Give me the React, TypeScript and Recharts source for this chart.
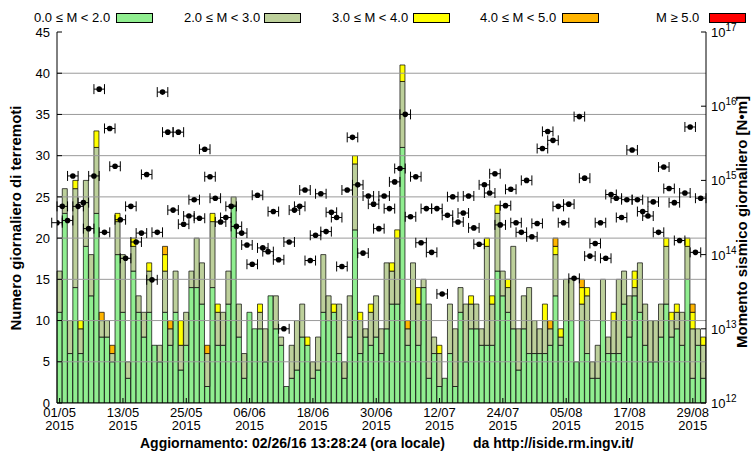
import React from "react"
import {
  ComposedChart,
  Bar,
  Scatter,
  ErrorBar,
  XAxis,
  YAxis,
  ReferenceLine,
} from "recharts"

// Daily counts per magnitude class, 01/05/2015 .. 31/08/2015
const m0to2 = [
  11, 23, 6, 14, 6, 19, 13, 23, 8, 8, 5, 18, 11, 3, 16, 11, 8, 11, 7, 5,
  11, 7, 11, 4, 7, 14, 14, 12, 2, 14, 7, 7, 12, 24, 8, 3, 11, 9, 9, 5,
  13, 9, 7, 2, 3, 4, 8, 7, 3, 4, 11, 10, 11, 6, 3, 8, 21, 6, 8, 7,
  8, 6, 9, 12, 12, 31, 7, 10, 7, 14, 3, 6, 2, 3, 6, 2, 11, 5, 9, 9,
  7, 7, 7, 16, 13, 11, 9, 4, 9, 6, 6, 6, 6, 7, 13, 7, 10, 10, 5, 10,
  6, 3, 3, 10, 6, 6, 6, 12, 8, 13, 11, 7, 5, 5, 8, 12, 8, 9, 7, 15,
  3, 7, 3,
]
const m2to3 = [
  5, 3, 4, 12, 3, 8, 5, 8, 2, 2, 1, 4, 7, 2, 3, 2, 3, 5, 0, 2,
  5, 2, 5, 3, 4, 2, 6, 5, 4, 8, 4, 4, 4, 1, 4, 3, 0, 0, 2, 4,
  0, 4, 1, 0, 4, 6, 4, 0, 2, 4, 7, 3, 0, 6, 2, 5, 8, 4, 1, 4,
  5, 3, 8, 4, 8, 8, 2, 7, 5, 1, 9, 2, 4, 0, 6, 7, 3, 7, 3, 3,
  2, 12, 5, 7, 3, 3, 10, 5, 4, 8, 4, 3, 4, 2, 5, 1, 5, 5, 0, 2,
  7, 2, 4, 5, 2, 4, 9, 4, 5, 1, 6, 5, 5, 5, 4, 7, 2, 2, 4, 4,
  6, 2, 4,
]
const m3to4 = [
  0, 0, 0, 1, 1, 0, 0, 2, 0, 0, 0, 1, 0, 0, 1, 0, 0, 1, 0, 0,
  2, 0, 0, 3, 0, 0, 0, 0, 0, 1, 1, 0, 0, 0, 0, 0, 0, 0, 1, 0,
  0, 0, 0, 0, 0, 0, 0, 1, 0, 0, 0, 0, 1, 0, 0, 0, 1, 1, 0, 1,
  0, 0, 0, 1, 1, 2, 0, 0, 2, 0, 0, 0, 1, 0, 0, 0, 0, 0, 1, 0,
  0, 1, 1, 1, 0, 1, 0, 0, 0, 0, 0, 0, 2, 0, 1, 1, 0, 0, 0, 2,
  1, 0, 0, 0, 0, 1, 0, 0, 0, 2, 0, 0, 0, 0, 0, 1, 1, 1, 0, 1,
  2, 0, 1,
]
const m4to5 = [
  0, 0, 0, 0, 0, 0, 0, 0, 1, 0, 1, 0, 0, 0, 0, 0, 0, 0, 0, 0,
  1, 1, 0, 0, 0, 0, 0, 0, 1, 0, 0, 0, 0, 0, 0, 0, 0, 0, 0, 0,
  0, 0, 0, 0, 0, 0, 0, 0, 0, 0, 0, 0, 0, 0, 0, 0, 0, 0, 0, 0,
  0, 0, 0, 0, 0, 0, 1, 0, 0, 0, 0, 0, 0, 0, 0, 0, 0, 0, 0, 0,
  0, 0, 0, 0, 0, 0, 0, 0, 0, 0, 0, 0, 0, 1, 1, 0, 0, 0, 0, 1,
  0, 0, 0, 0, 0, 0, 0, 0, 0, 0, 0, 0, 0, 0, 0, 0, 0, 0, 0, 0,
  1, 0, 0,
]
const m5plus = m0to2.map(() => 0)

// daily seismic moment, log10 of N·m
const momentExp = [
  14.43, 14.65, 14.46, 15.06, 14.65, 14.7, 14.35, 15.06, 16.23, 14.3,
  15.7, 15.19, 14.47, 13.95, 14.65, 14.17, 14.29, 15.08, 13.66, 14.3,
  16.19, 15.65, 14.6, 15.65, 14.41, 14.52, 14.74, 14.49, 15.42, 15.05,
  14.76, 14.44, 14.5, 14.65, 14.38, 14.29, 14.13, 13.87, 14.8, 14.09,
  14.04, 14.58, 13.93, 13.0, 14.17, 14.6, 14.65, 14.87, 13.92, 14.26,
  14.82, 14.31, 14.57, 14.5, 13.84, 14.87, 15.58, 14.94, 14.02, 14.79,
  14.68, 14.35, 14.79, 14.62, 14.98, 15.16, 15.89, 14.51, 15.05, 14.16,
  14.62, 14.03, 14.62, 13.47, 14.53, 14.78, 14.44, 14.56, 14.79, 14.36,
  14.14, 14.94, 14.83, 15.09, 14.4, 14.66, 14.88, 14.43, 14.3, 15.0,
  14.24, 14.42, 15.43, 15.66, 15.54, 14.65, 14.43, 14.68, 13.68, 15.86,
  15.03, 13.98, 14.15, 14.43, 13.95, 14.81, 14.76, 14.5, 14.74, 15.41,
  14.74, 14.58, 14.52, 14.71, 14.3, 15.18, 14.89, 14.7, 14.19, 14.83,
  15.72, 14.03, 14.76,
]

const year = "2015"
const tickDates = [
  "01/05", "13/05", "25/05", "06/06", "18/06", "30/06",
  "12/07", "24/07", "05/08", "17/08", "29/08",
]
const countTicks = [0, 5, 10, 15, 20, 25, 30, 35, 40, 45]
const gridValues = [5, 10, 15, 20, 25, 30, 35, 40]
const expTicks = [12, 13, 14, 15, 16, 17]

const classes = [
  { key: "c0", label: "0.0 ≤ M < 2.0", color: "#90ee90", values: m0to2 },
  { key: "c2", label: "2.0 ≤ M < 3.0", color: "#bdd09b", values: m2to3 },
  { key: "c3", label: "3.0 ≤ M < 4.0", color: "#ffff00", values: m3to4 },
  { key: "c4", label: "4.0 ≤ M < 5.0", color: "#ffb400", values: m4to5 },
  { key: "c5", label: "M ≥ 5.0", color: "#ff0000", values: m5plus },
]

const pad = (n: number) => String(n).padStart(2, "0")
const rows = m0to2.map((_, i) => {
  const d = new Date(2015, 4, 1 + i)
  const row: Record<string, number | string> = {
    day: `${pad(d.getDate())}/${pad(d.getMonth() + 1)}`,
    x: i,
    m: momentExp[i],
    err: 1,
  }
  classes.forEach((c) => (row[c.key] = c.values[i]))
  return row
})

const minorCount = Array.from({ length: 46 }, (_, i) => i)
const minorExp = expTicks
  .slice(0, -1)
  .flatMap((e) => [2, 3, 4, 5, 6, 7, 8, 9].map((k) => e + Math.log10(k)))

const FONT = "'Liberation Sans Narrow', 'Arial Narrow', 'Liberation Sans', Arial, sans-serif"

const DateTick = ({ x, y, payload }: any) => (
  <text x={x} y={y} textAnchor="middle" fontSize={13} fontFamily={FONT} fill="#000">
    <tspan x={x} dy="0.75em">{payload.value}</tspan>
    <tspan x={x} dy="1.05em">{year}</tspan>
  </text>
)

const PowTick = ({ x, y, payload }: any) => (
  <text x={x} y={y + 5} textAnchor="start" fontSize={13} fontFamily={FONT} fill="#000">
    10
    <tspan dy={-6} fontSize={10}>{payload.value}</tspan>
  </text>
)

const Dot = ({ cx, cy }: any) => <circle cx={cx} cy={cy} r={2.8} fill="#000" />

export default function App() {
  return (
    <div style={{ position: "absolute", left: 0, top: 0, width: 754, height: 454, background: "#fff", fontFamily: FONT }}>
      {classes.map((c, i) => {
        const pos = [[34, 116], [184, 264], [332, 413], [480, 562], [656, 709]][i]
        return (
          <React.Fragment key={c.key}>
            <div style={{ position: "absolute", left: pos[0], top: 10, fontSize: 13, lineHeight: "15px" }}>{c.label}</div>
            <div style={{ position: "absolute", left: pos[1], top: 13, width: 35, height: 8, background: c.color, border: "1px solid #000" }} />
          </React.Fragment>
        )
      })}
      <div style={{ position: "absolute", left: 15, top: 218, transform: "translate(-50%, -50%) rotate(-90deg)", whiteSpace: "nowrap", fontSize: 15, fontWeight: "bold" }}>
        Numero giornaliero di terremoti
      </div>
      <div style={{ position: "absolute", left: 741, top: 222, transform: "translate(-50%, -50%) rotate(-90deg)", whiteSpace: "nowrap", fontSize: 15, fontWeight: "bold" }}>
        Momento sismico giornaliero [N•m]
      </div>
      <div style={{ position: "absolute", left: 140, top: 435, fontSize: 14, fontWeight: "bold", whiteSpace: "nowrap" }}>
        Aggiornamento: 02/26/16 13:28:24 (ora locale)
      </div>
      <div style={{ position: "absolute", left: 473, top: 435, fontSize: 14, fontWeight: "bold", whiteSpace: "nowrap" }}>
        da http://iside.rm.ingv.it/
      </div>
      <ComposedChart
        width={754}
        height={454}
        data={rows}
        margin={{ top: 32, right: 0, bottom: 0, left: 0 }}
        barCategoryGap={0}
        barGap={0}
      >
        <XAxis
          xAxisId="cat"
          dataKey="day"
          type="category"
          ticks={tickDates}
          interval={0}
          height={51}
          tickSize={-5}
          tickMargin={9}
          tick={<DateTick />}
          stroke="#000"
        />
        <XAxis
          xAxisId="top"
          dataKey="day"
          type="category"
          orientation="top"
          ticks={tickDates}
          interval={0}
          height={0}
          tickSize={-5}
          tick={false}
          stroke="#000"
        />
        <XAxis xAxisId="num" dataKey="x" type="number" domain={[0, 123]} allowDataOverflow hide />
        <YAxis
          yAxisId="leftMinor"
          type="number"
          domain={[0, 45]}
          ticks={minorCount}
          interval={0}
          width={0}
          tickSize={-3}
          tick={false}
          axisLine={false}
          stroke="#000"
        />
        <YAxis
          yAxisId="left"
          type="number"
          domain={[0, 45]}
          ticks={countTicks}
          interval={0}
          width={57}
          tickSize={-5}
          tickMargin={12}
          tick={{ fontSize: 13, fill: "#000", fontFamily: FONT }}
          stroke="#000"
          allowDataOverflow
        />
        <YAxis
          yAxisId="rightMinor"
          orientation="right"
          type="number"
          domain={[12, 17]}
          ticks={minorExp}
          interval={0}
          width={0}
          tickSize={-3}
          tick={false}
          axisLine={false}
          stroke="#000"
        />
        <YAxis
          yAxisId="right"
          orientation="right"
          dataKey="m"
          type="number"
          domain={[12, 17]}
          ticks={expTicks}
          interval={0}
          width={48}
          tickSize={-5}
          tickMargin={10}
          tick={<PowTick />}
          stroke="#000"
          allowDataOverflow
        />
        {classes.map((c) => (
          <Bar
            key={c.key}
            xAxisId="cat"
            yAxisId="left"
            dataKey={c.key}
            stackId="n"
            fill={c.color}
            stroke="#000"
            strokeWidth={0.7}
            isAnimationActive={false}
          />
        ))}
        {gridValues.map((v) => (
          <ReferenceLine key={v} xAxisId="cat" yAxisId="left" y={v} stroke="#9a9a9a" strokeWidth={1} />
        ))}
        <Scatter
          xAxisId="num"
          yAxisId="right"
          dataKey="m"
          shape={<Dot />}
          isAnimationActive={false}
        >
          <ErrorBar dataKey="err" direction="x" width={5} stroke="#000" strokeWidth={1} />
        </Scatter>
      </ComposedChart>
    </div>
  )
}
